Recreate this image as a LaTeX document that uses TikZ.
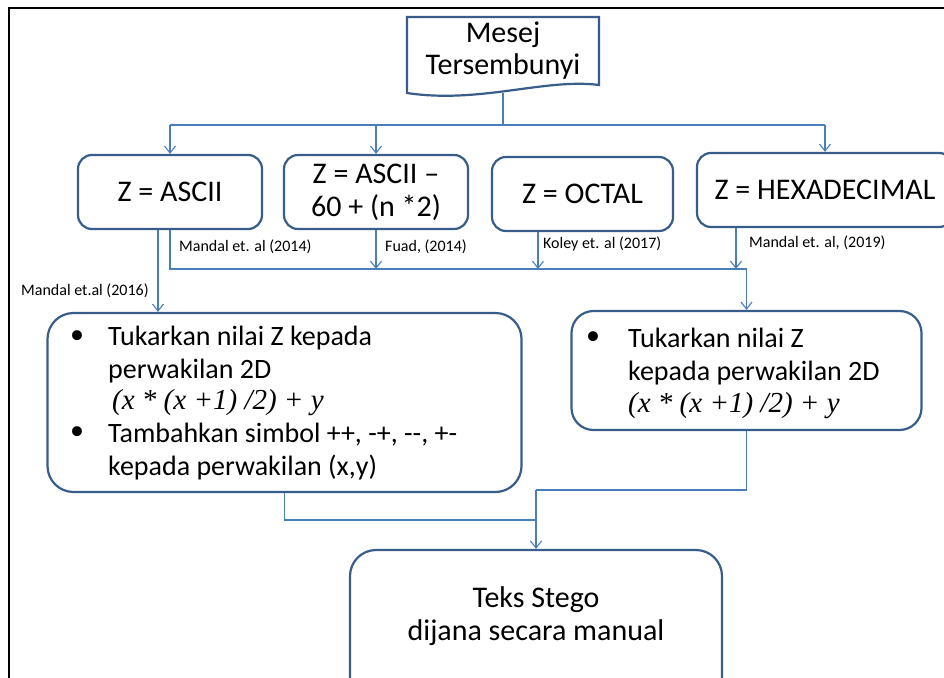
\documentclass[tikz,border=0pt]{standalone}
\usepackage{fontspec}
\setmainfont{Carlito}
\newfontfamily\formfont{Liberation Serif}
\usetikzlibrary{arrows.meta}

\definecolor{boxline}{RGB}{56,93,138}
\definecolor{linkline}{RGB}{74,126,187}

\tikzset{
  box/.style={draw=boxline, line width=2.2pt, rounded corners=14pt, fill=white,
              align=center, font=\fontsize{30}{33}\selectfont, inner sep=0pt},
  bigbox/.style={box, rounded corners=26pt},
  body/.style={anchor=base west, inner sep=0pt, font=\fontsize{28}{33}\selectfont},
  bul/.style={anchor=center, inner sep=0pt, font=\fontsize{28}{33}\selectfont},
  form/.style={anchor=base west, inner sep=0pt, font=\formfont\itshape\fontsize{29}{33}\selectfont},
  cite/.style={anchor=west, inner sep=0pt, font=\fontsize{16}{18}\selectfont},
  link/.style={draw=linkline, line width=1.2pt},
  arr/.style={link, -{Straight Barb[length=7pt,width=11pt,line width=1.1pt]}},
}

\begin{document}
\begin{tikzpicture}[x=1pt,y=-1pt]
\useasboundingbox (0,0) rectangle (944,677);

% outer frame (top and left edges)
\draw[line width=2.2pt, black] (9,700) -- (9,8) -- (960,8);

% hidden message: document shape
\draw[draw=boxline, line width=2.2pt, fill=white]
  (407,17) -- (599,17) -- (599,85) .. controls (545,78) and (480,104) .. (407,93) -- cycle;
\node[inner sep=0pt, align=center, font=\fontsize{30}{32}\selectfont] (msg) at (503,51)
  {Mesej\\Tersembunyi};
\coordinate (msgstem) at (503,93);

% encoding boxes
\node[box, minimum width=184pt, minimum height=74pt] (asc) at (170,192) {Z = ASCII};
\node[box, minimum width=184pt, minimum height=74pt] (a60) at (376,192) {Z = ASCII --\\60 + (n *2)};
\node[box, minimum width=181pt, minimum height=74pt] (oct) at (582.5,194) {Z = OCTAL};
\node[box, minimum width=256pt, minimum height=74pt] (hex) at (825,190) {Z = HEXADECIMAL};

% 2D representation boxes
\node[bigbox, minimum width=474pt, minimum height=179pt] (rep1) at (284.5,402.5) {};
\node[box, rounded corners=22pt, minimum width=350pt, minimum height=119pt] (rep2) at (746.5,370.5) {};
\node[bigbox, minimum width=372pt, minimum height=190pt] (stego) at (536,645) {};

% texts of the left 2D box
\node[bul] (r1b1) at (77,337) {\textbullet};
\node[body] (r1l1) at (108,345) {Tukarkan nilai Z kepada};
\node[body] (r1l2) at (108,378) {perwakilan 2D};
\node[form] (r1l3) at (112,409) {(x * (x +1) /2) + y};
\node[bul] (r1b2) at (77,433) {\textbullet};
\node[body] (r1l4) at (108,442) {Tambahkan simbol ++, -+, {-}{-}, +-};
\node[body] (r1l5) at (108,475) {kepada perwakilan (x,y)};

% texts of the right 2D box
\node[bul] (r2b1) at (593,338) {\textbullet};
\node[body] (r2l1) at (628,347) {Tukarkan nilai Z};
\node[body] (r2l2) at (628,380) {kepada perwakilan 2D};
\node[form] (r2l3) at (628,412) {(x * (x +1) /2) + y};

% output box text
\node[inner sep=0pt, align=center, font=\fontsize{30}{33}\selectfont] (stegotxt) at (536,616)
  {Teks Stego\\dijana secara manual};

% top distribution bus
\coordinate (topbus) at (0,125);
\draw[link] (msgstem) -- (msgstem |- topbus);
\draw[link] (asc.north |- topbus) -- (hex.north |- topbus);
\draw[arr] (asc.north |- topbus) -- (asc.north);
\draw[arr] (a60.north |- topbus) -- (a60.north);
\draw[arr] (hex.north |- topbus) -- (hex.north);

% middle collection bus
\coordinate (midbus) at (0,269);
\draw[arr] ([xshift=-12pt]asc.south) -- ([xshift=-12pt]asc.south |- rep1.north);
\draw[arr] (asc.south) |- (rep2.north |- midbus) -- (rep2.north);
\draw[arr] (a60.south) -- (a60.south |- midbus);
\draw[arr] ([xshift=-44.5pt]oct.south) -- ([xshift=-44.5pt]oct.south |- midbus);
\draw[arr] ([xshift=-89pt]hex.south) -- ([xshift=-89pt]hex.south |- midbus);

% reference labels
\node[cite] (c16) at (21,291) {Mandal et.al (2016)};
\node[cite] (c14) at (179,247) {Mandal et. al (2014)};
\node[cite] (cfu) at (385,247) {Fuad, (2014)};
\node[cite] (cko) at (543,244) {Koley et. al (2017)};
\node[cite] (c19) at (749,243) {Mandal et. al, (2019)};

% bottom merge
\coordinate (lowbus) at (0,520);
\coordinate (lowbusr) at (0,490);
\draw[link] (rep1.south) |- (stego.north |- lowbus);
\draw[link] (rep2.south) |- (stego.north |- lowbusr);
\draw[arr] (stego.north |- lowbusr) -- (stego.north);
\end{tikzpicture}
\end{document}
